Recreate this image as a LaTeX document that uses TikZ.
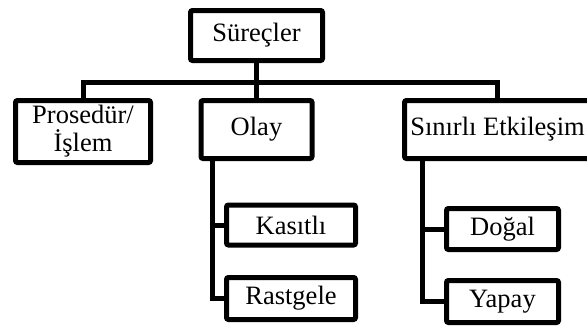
\documentclass[tikz,border=0pt]{standalone}
\usepackage{fontspec}
\setmainfont{Liberation Serif}
\usepackage{tikz}
\usetikzlibrary{calc}
\tikzset{
  box/.style={draw,line width=5pt,rounded corners=2pt,inner sep=2pt,align=center,font=\fontsize{26.5}{28}\selectfont},
  link/.style={draw,line width=5pt}
}

\begin{document}
\begin{tikzpicture}[x=1pt,y=-1pt]
  \useasboundingbox (0,0) rectangle (587,327);
  \node[box,minimum width=132pt,minimum height=50pt] (surec) at (256.5,35.5) {Süreçler};
  \node[box,minimum width=135pt,minimum height=62pt] (prosedur) at (83,131.5) {Prosedür/\\İşlem};
  \node[box,minimum width=111pt,minimum height=58pt] (olay) at (256.5,129.5) {Olay};
  \node[box,minimum width=186pt,minimum height=58pt] (sinirli) at (497.5,129.5) {Sınırlı Etkileşim};
  \node[box,minimum width=129pt,minimum height=40pt] (kasitli) at (291,225) {Kasıtlı};
  \node[box,minimum width=129pt,minimum height=42pt] (rastgele) at (291,298.5) {Rastgele};
  \node[box,minimum width=112pt,minimum height=41pt] (dogal) at (502.5,229) {Doğal};
  \node[box,minimum width=112pt,minimum height=42pt] (yapay) at (502.5,301.5) {Yapay};
  % main bus under the root
  \coordinate (bus) at (256.5,82);
  \draw[link] (surec.south) -- (olay.north);
  \draw[link] (prosedur.north) |- (bus) -| (sinirli.north);
  % sub branches
  \coordinate (olaytrunk) at (212,160);
  \draw[link] (olaytrunk) |- (kasitli.west);
  \draw[link] (olaytrunk) |- (rastgele.west);
  \coordinate (sinirlitrunk) at (422,160);
  \draw[link] (sinirlitrunk) |- (dogal.west);
  \draw[link] (sinirlitrunk) |- (yapay.west);
\end{tikzpicture}
\end{document}
